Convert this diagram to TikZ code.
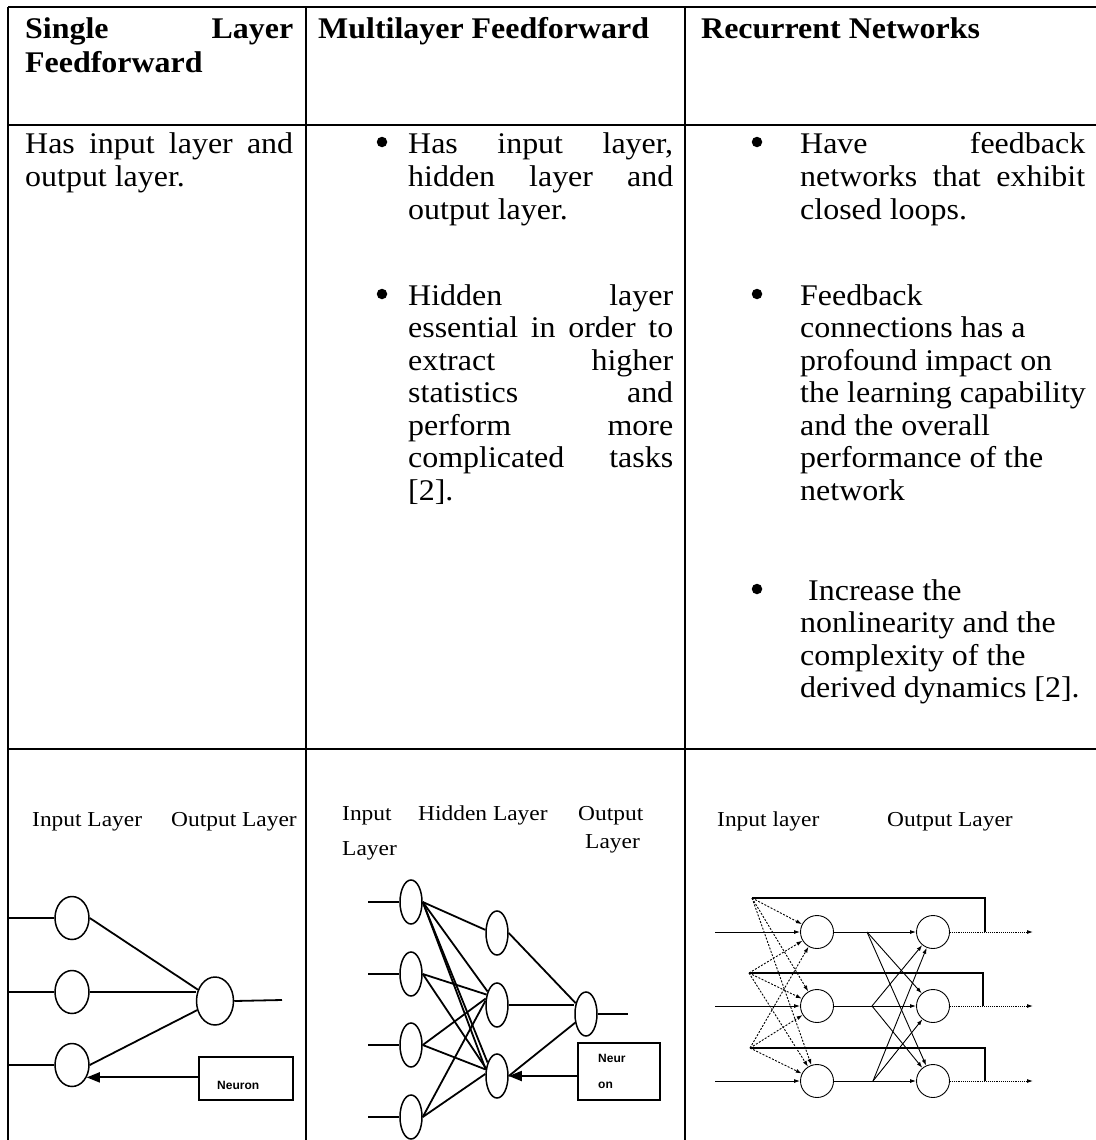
\documentclass[tikz,border=0pt]{standalone}
\usepackage{fontspec}
\setmainfont{Liberation Serif}[FakeStretch=1.065]
\newfontfamily\labfont{Liberation Serif}[FakeStretch=1.1]
\newfontfamily\boxfont{Liberation Sans}
\usetikzlibrary{shapes.geometric,arrows.meta}
\newcommand{\jline}[2]{\makebox[#1pt][s]{#2}}
\begin{document}
\begin{tikzpicture}[x=1pt,y=-1pt,
  tbl/.style={line width=1.8pt},
  body/.style={anchor=base west, inner sep=0pt, font=\fontsize{30}{33}\selectfont},
  head/.style={anchor=base west, inner sep=0pt, font=\fontsize{30}{33}\selectfont\bfseries},
  lab/.style={anchor=base west, inner sep=0pt, font={\labfont\fontsize{21.3}{24}\selectfont}},
  bul/.style={circle, fill=black, inner sep=0pt, minimum size=10.5pt},
  neuA/.style={ellipse, draw, line width=1.5pt, inner sep=0pt, minimum width=34pt, minimum height=43pt},
  neuB/.style={ellipse, draw, line width=1.5pt, inner sep=0pt, minimum width=22pt, minimum height=44pt},
  neuC/.style={circle, draw, line width=0.9pt, inner sep=0pt, minimum size=33pt},
  wire/.style={line width=1.8pt},
  fb/.style={line width=1.8pt, -{Triangle[length=13pt,width=10pt]}},
  nbox/.style={draw, line width=1.5pt, rectangle, inner sep=0pt},
  boxtxt/.style={anchor=base west, inner sep=0pt, font={\boxfont\bfseries\fontsize{12}{14}\selectfont}},
  tip/.style={line width=0.9pt, -{Latex[length=6pt,width=4pt]}},
  outw/.style={line width=0.9pt, densely dotted, -{Latex[length=6pt,width=4pt]}},
  fan/.style={line width=0.9pt, densely dashed, dash pattern=on 2pt off 1.5pt, -{Latex[length=6pt,width=4pt]}},
  loopw/.style={line width=1.6pt}]
\useasboundingbox (0,0) rectangle (1095,1140);
\fill[white] (0,0) rectangle (1095,1140);

% ---------- table rules ----------
\draw[tbl] (8,7) -- (1100,7);
\draw[tbl] (8,125) -- (1100,125);
\draw[tbl] (8,749) -- (1100,749);
\draw[tbl] (8,7) -- (8,1150);
\draw[tbl] (306,7) -- (306,1150);
\draw[tbl] (685,7) -- (685,1150);

% ---------- header ----------
\node[head] (hA1) at (25,38) {\jline{268}{Single Layer}};
\node[head] (hA2) at (25,72) {Feedforward};
\node[head] (hB) at (318,38) {Multilayer Feedforward};
\node[head] (hC) at (701,38) {Recurrent Networks};

% ---------- column 1 ----------
\node[body] (a01) at (25,153) {\jline{268}{Has input layer and}};
\node[body] (a02) at (25,186) {output layer.};

% ---------- column 2 ----------
\node[bul] (bb1) at (382,142) {};
\node[body] (b01) at (408,153) {\jline{265}{Has input layer,}};
\node[body] (b02) at (408,186) {\jline{265}{hidden layer and}};
\node[body] (b03) at (408,219) {output layer.};
\node[bul] (bb2) at (382,294) {};
\node[body] (b04) at (408,305) {\jline{265}{Hidden layer}};
\node[body] (b05) at (408,337.5) {\jline{265}{essential in order to}};
\node[body] (b06) at (408,370) {\jline{265}{extract higher}};
\node[body] (b07) at (408,402.5) {\jline{265}{statistics and}};
\node[body] (b08) at (408,435) {\jline{265}{perform more}};
\node[body] (b09) at (408,467.5) {\jline{265}{complicated tasks}};
\node[body] (b10) at (408,500) {[2].};

% ---------- column 3 ----------
\node[bul] (cb1) at (757,142) {};
\node[body] (c01) at (800,153) {\jline{285}{Have feedback}};
\node[body] (c02) at (800,186) {\jline{285}{networks that exhibit}};
\node[body] (c03) at (800,219) {closed loops.};
\node[bul] (cb2) at (757,294) {};
\node[body] (c04) at (800,305) {Feedback};
\node[body] (c05) at (800,337.5) {connections has a};
\node[body] (c06) at (800,370) {profound impact on};
\node[body] (c07) at (800,402.5) {the learning capability};
\node[body] (c08) at (800,435) {and the overall};
\node[body] (c09) at (800,467.5) {performance of the};
\node[body] (c10) at (800,500) {network};
\node[bul] (cb3) at (757,589) {};
\node[body] (c11) at (808,600) {Increase the};
\node[body] (c12) at (800,632.5) {nonlinearity and the};
\node[body] (c13) at (800,665) {complexity of the};
\node[body] (c14) at (800,697.5) {derived dynamics [2].};

% ---------- diagram 1 : single layer ----------
\node[lab] (L1a) at (32,826) {Input Layer};
\node[lab] (L1b) at (171,826) {Output Layer};
\node[neuA] (p1) at (72,918) {};
\node[neuA] (p2) at (72,992) {};
\node[neuA] (p3) at (72,1065) {};
\node[neuA, minimum width=37pt, minimum height=48pt] (po) at (215,1001) {};
\coordinate (p1in) at (8,918);
\coordinate (p2in) at (8,992);
\coordinate (p3in) at (8,1065);
\coordinate (pout) at (282,1000);
\draw[wire] (p1in) -- (p1);
\draw[wire] (p2in) -- (p2);
\draw[wire] (p3in) -- (p3);
\draw[wire] (p1.east) -- (po);
\draw[wire] (p2.east) -- (p2.east -| po.west);
\draw[wire] (p3.east) -- (po);
\draw[wire] (po.east) -- (pout);
\node[nbox, minimum width=94pt, minimum height=43pt] (pbox) at (246,1078.5) {};
\node[boxtxt] (pbt) at (217,1089) {Neuron};
\draw[fb] (pbox.west |- p3.-40) -- (p3.-40);

% ---------- diagram 2 : multilayer ----------
\node[lab] (L2a) at (342,820) {Input};
\node[lab] (L2b) at (342,855) {Layer};
\node[lab] (L2c) at (418,820) {Hidden Layer};
\node[lab] (L2d) at (578,820) {Output};
\node[lab] (L2e) at (585,848) {Layer};
\node[neuB] (q1) at (411,902) {};
\node[neuB] (q2) at (411,974) {};
\node[neuB] (q3) at (411,1045) {};
\node[neuB] (q4) at (411,1117) {};
\node[neuB] (r1) at (497,933) {};
\node[neuB] (r2) at (497,1005) {};
\node[neuB] (r3) at (497,1076) {};
\node[neuB] (qo) at (586,1014) {};
\coordinate (q1in) at (368,902);
\coordinate (q2in) at (368,974);
\coordinate (q3in) at (368,1045);
\coordinate (q4in) at (368,1117);
\coordinate (qout) at (628,1014);
\draw[wire] (q1in) -- (q1);
\draw[wire] (q2in) -- (q2);
\draw[wire] (q3in) -- (q3);
\draw[wire] (q4in) -- (q4);
\draw[wire] (q1.east) -- (r1.165);
\draw[wire] (q1.east) -- (r2.125);
\draw[wire] (q1.east) -- (r3.150);
\draw[wire] (q1.east) -- (r3.125);
\draw[wire] (q2.east) -- (r2.135);
\draw[wire] (q2.east) -- (r3.145);
\draw[wire] (q3.east) -- (r2.150);
\draw[wire] (q3.east) -- (r3.150);
\draw[wire] (q4.east) -- (r2.160);
\draw[wire] (q4.east) -- (r3.170);
\draw[wire] (r1.east) -- (qo);
\draw[wire] (r2.east) -- (r2.east -| qo.west);
\draw[wire] (r3.east) -- (qo);
\draw[wire] (qo.east) -- (qout);
\node[nbox, minimum width=82pt, minimum height=57pt] (qbox) at (619,1071.5) {};
\node[boxtxt] (qbt1) at (598,1062) {Neur};
\node[boxtxt] (qbt2) at (598,1088) {on};
\draw[fb] (qbox.west |- r3.east) -- (r3.east);

% ---------- diagram 3 : recurrent ----------
\node[lab] (L3a) at (717,826) {Input layer};
\node[lab] (L3b) at (887,826) {Output Layer};
\node[neuC] (s1) at (817,932) {};
\node[neuC] (s2) at (817,1006) {};
\node[neuC] (s3) at (817,1081) {};
\node[neuC] (t1) at (933,932) {};
\node[neuC] (t2) at (933,1006) {};
\node[neuC] (t3) at (933,1081) {};
\coordinate (s1in) at (715,932);
\coordinate (s2in) at (715,1006);
\coordinate (s3in) at (715,1081);
\draw[tip] (s1in) -- (s1);
\draw[tip] (s2in) -- (s2);
\draw[tip] (s3in) -- (s3);
\draw[tip] (s1) -- (t1);
\draw[tip] (s2) -- (t2);
\draw[tip] (s3) -- (t3);
\coordinate (k1) at (867,932);
\coordinate (k2) at (872,1006);
\coordinate (k3) at (873,1081);
\draw[tip] (k1) -- (t2);
\draw[tip] (k1) -- (t3);
\draw[tip] (k2) -- (t1);
\draw[tip] (k2) -- (t3);
\draw[tip] (k3) -- (t1);
\draw[tip] (k3) -- (t2);
\coordinate (e1) at (1033,932);
\coordinate (e2) at (1033,1006);
\coordinate (e3) at (1033,1081);
\draw[outw] (t1) -- (e1);
\draw[outw] (t2) -- (e2);
\draw[outw] (t3) -- (e3);
\coordinate (m1) at (985,932);
\coordinate (m2) at (983,1006);
\coordinate (m3) at (985,1081);
\coordinate (f1) at (752,898);
\coordinate (f2) at (749,973);
\coordinate (f3) at (750,1048);
\draw[loopw] (m1) |- (f1);
\draw[loopw] (m2) |- (f2);
\draw[loopw] (m3) |- (f3);
\foreach \f in {f1,f2,f3}{
  \foreach \s in {s1,s2,s3}{
    \draw[fan] (\f) -- (\s);
  }
}
\end{tikzpicture}
\end{document}
